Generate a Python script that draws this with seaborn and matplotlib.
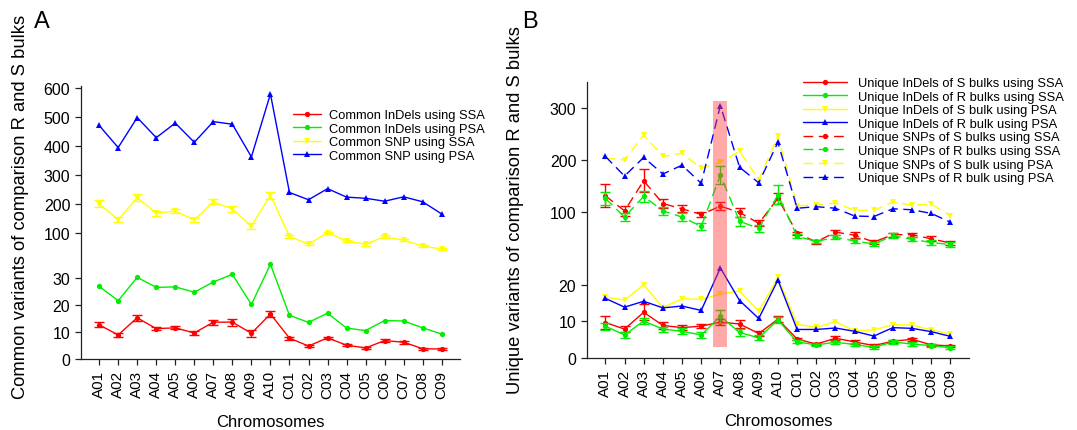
import numpy as np
import pandas as pd
import matplotlib
matplotlib.use("Agg")
import matplotlib.pyplot as plt
import seaborn as sns
from matplotlib.lines import Line2D

# ---------------- data ----------------
chromosomes = ["A01", "A02", "A03", "A04", "A05", "A06", "A07", "A08", "A09", "A10",
               "C01", "C02", "C03", "C04", "C05", "C06", "C07", "C08", "C09"]

# Panel A
a_indel_ssa = [12.7, 9.0, 15.3, 11.3, 11.6, 9.7, 13.7, 13.7, 9.6, 16.7,
               7.8, 4.9, 7.9, 5.2, 4.2, 6.9, 6.3, 3.9, 3.8]
a_indel_ssa_err = [0.9, 0.8, 1.0, 0.6, 0.6, 0.6, 0.9, 1.3, 1.2, 1.2,
                   0.6, 0.5, 0.5, 0.4, 0.4, 0.5, 0.5, 0.4, 0.4]
a_indel_psa = [26.9, 21.6, 30.2, 26.5, 26.7, 24.7, 28.5, 31.3, 20.2, 35.0,
               16.2, 13.6, 17.0, 11.5, 10.6, 14.3, 14.1, 11.6, 9.3]
a_snp_ssa = [202, 146, 222, 169, 176, 146, 208, 183, 125, 231,
             89, 63, 102, 74, 62, 89, 76, 56, 46]
a_snp_ssa_err = [12, 9, 13, 9, 8, 6, 8, 10, 9, 12,
                 4, 4, 4, 3, 4, 4, 3, 4, 3]
a_snp_psa = [470, 394, 497, 428, 478, 412, 483, 474, 362, 578,
             240, 215, 253, 224, 220, 210, 225, 208, 166]

# Panel B
b_indel_s_ssa = [9.7, 7.9, 12.5, 8.9, 8.3, 8.7, 9.8, 9.3, 6.7, 10.6,
                 5.2, 3.8, 5.4, 4.4, 3.4, 4.6, 5.1, 3.6, 3.3]
b_indel_s_ssa_err = [1.8, 0.8, 2.2, 1.0, 0.6, 0.5, 0.9, 1.0, 0.6, 0.8,
                     0.4, 0.3, 0.5, 0.5, 0.3, 0.4, 0.4, 0.3, 0.3]
b_indel_r_ssa = [8.7, 6.3, 10.1, 7.9, 7.3, 6.3, 11.4, 7.0, 5.5, 10.4,
                 4.4, 3.6, 4.3, 3.7, 2.9, 4.4, 3.8, 3.4, 2.8]
b_indel_r_ssa_err = [1.0, 0.9, 0.8, 0.7, 0.8, 0.9, 1.8, 0.9, 0.7, 0.8,
                     0.4, 0.3, 0.4, 0.4, 0.4, 0.5, 0.5, 0.4, 0.4]
b_indel_s_psa = [16.7, 15.8, 20.0, 13.8, 16.2, 16.0, 17.5, 18.3, 12.8, 22.0,
                 9.2, 8.4, 9.9, 7.4, 7.7, 9.1, 9.0, 7.7, 6.5]
b_indel_r_psa = [16.3, 13.9, 15.5, 13.7, 14.2, 13.0, 24.6, 15.7, 10.8, 21.3,
                 7.8, 7.8, 8.2, 7.3, 6.0, 8.3, 8.1, 7.2, 5.9]
b_snp_s_ssa = [131, 102, 160, 116, 106, 95, 111, 99, 78, 126,
               59, 42, 61, 55, 42, 56, 56, 48, 40]
b_snp_s_ssa_err = [22, 10, 22, 8, 7, 5, 8, 9, 6, 10,
                   3, 3, 5, 6, 3, 4, 4, 5, 4]
b_snp_r_ssa = [126, 90, 130, 102, 90, 72, 171, 82, 68, 133,
               53, 43, 51, 44, 38, 54, 47, 41, 37]
b_snp_r_ssa_err = [12, 8, 10, 8, 8, 6, 17, 9, 7, 18,
                   4, 3, 4, 4, 3, 5, 4, 5, 4]
b_snp_s_psa = [204, 200, 248, 207, 213, 184, 196, 217, 162, 246,
               112, 113, 117, 103, 103, 119, 113, 115, 92]
b_snp_r_psa = [207, 169, 205, 173, 190, 155, 305, 186, 156, 234,
               107, 110, 107, 92, 91, 106, 104, 97, 80]

highlight_chrom = "A07"

# ---------------- style ----------------
sns.set_theme(style="ticks")
plt.rcParams["font.family"] = ["Liberation Sans", "DejaVu Sans"]
plt.rcParams["text.color"] = "black"
plt.rcParams["axes.labelcolor"] = "black"
plt.rcParams["xtick.color"] = "black"
plt.rcParams["ytick.color"] = "black"

RED, GREEN, YELLOW, BLUE = "#ff0000", "#00ee00", "#ffff00", "#0000ff"
DASH = (7, 4)


def piecewise(b, k):
    def fwd(x):
        x = np.asarray(x, dtype=float)
        return np.where(x <= b, x, b + (x - b) * k)

    def inv(y):
        y = np.asarray(y, dtype=float)
        return np.where(y <= b, y, b + (y - b) / k)
    return fwd, inv


fig = plt.figure(figsize=(10.77, 4.31), dpi=100)
axA = fig.add_axes([0.0749, 0.164, 0.3524, 0.634])
axB = fig.add_axes([0.5448, 0.167, 0.3550, 0.640])

x = np.arange(len(chromosomes))


def draw(ax, y, color, marker, dashed=False, err=None, label=None):
    df = pd.DataFrame({"x": x, "y": y})
    sns.lineplot(data=df, x="x", y="y", ax=ax, color=color, lw=1.0,
                 marker=marker, markersize=3.8, markeredgewidth=0,
                 linestyle=(0, DASH) if dashed else "-", sort=False,
                 errorbar=None, legend=False)
    if err is not None:
        ax.errorbar(x, y, yerr=err, fmt="none", ecolor=color, elinewidth=1.0,
                    capsize=3.5, capthick=1.0)
    h = Line2D([], [], color=color, lw=1.0, marker=marker, markersize=3.8,
               markeredgewidth=0, linestyle=(0, DASH) if dashed else "-")
    return h, label


# ---------------- panel A ----------------
fA, iA = piecewise(40, 0.1074)
axA.set_yscale("function", functions=(fA, iA))
hA = [
    draw(axA, a_indel_ssa, RED, "o", err=a_indel_ssa_err, label="Common InDels using SSA"),
    draw(axA, a_indel_psa, GREEN, "o", label="Common InDels using PSA"),
    draw(axA, a_snp_ssa, YELLOW, "v", err=a_snp_ssa_err, label="Common SNP using SSA"),
    draw(axA, a_snp_psa, BLUE, "^", label="Common SNP using PSA"),
]
axA.set_ylim(0, 605)
axA.set_yticks([0, 10, 20, 30, 100, 200, 300, 400, 500, 600])
axA.set_ylabel("Common variants of comparison R and S bulks", fontsize=13.2)
axA.yaxis.set_label_coords(-0.136, 0.56)

# ---------------- panel B ----------------
fB, iB = piecewise(30, 0.1417)
axB.set_yscale("function", functions=(fB, iB))
hB = [
    draw(axB, b_indel_s_ssa, RED, "o", err=b_indel_s_ssa_err, label="Unique InDels of S bulks using SSA"),
    draw(axB, b_indel_r_ssa, GREEN, "o", err=b_indel_r_ssa_err, label="Unique InDels of R bulks using SSA"),
    draw(axB, b_indel_s_psa, YELLOW, "v", label="Unique InDels of S bulk using PSA"),
    draw(axB, b_indel_r_psa, BLUE, "^", label="Unique InDels of R bulk using PSA"),
    draw(axB, b_snp_s_ssa, RED, "o", dashed=True, err=b_snp_s_ssa_err, label="Unique SNPs of S bulks using SSA"),
    draw(axB, b_snp_r_ssa, GREEN, "o", dashed=True, err=b_snp_r_ssa_err, label="Unique SNPs of R bulks using SSA"),
    draw(axB, b_snp_s_psa, YELLOW, "v", dashed=True, label="Unique SNPs of S bulk using PSA"),
    draw(axB, b_snp_r_psa, BLUE, "^", dashed=True, label="Unique SNPs of R bulk using PSA"),
]
axB.set_ylim(0, 350)
axB.set_yticks([0, 10, 20, 100, 200, 300])
axB.set_ylabel("Unique variants of comparison R and S bulks", fontsize=13.2)
axB.yaxis.set_label_coords(-0.164, 0.54)

hi = chromosomes.index(highlight_chrom)
axB.fill_between([hi - 0.37, hi + 0.37], 3, 313, color="#ff4040", alpha=0.45,
                 lw=0, zorder=5)

for ax in (axA, axB):
    ax.set_xlim(-0.97, 18.97)
    ax.set_xticks(x)
    ax.set_xticklabels(chromosomes, rotation=90)
    ax.set_xlabel("Chromosomes", fontsize=12, labelpad=12)
    ax.tick_params(axis="y", labelsize=11.5)
    ax.tick_params(axis="x", labelsize=11)
    ax.tick_params(axis="both", length=4, width=0.9, color="#222222")
    for s in ("top", "right"):
        ax.spines[s].set_visible(False)
    for s in ("left", "bottom"):
        ax.spines[s].set_linewidth(0.9)
        ax.spines[s].set_color("#222222")
    ax.grid(False)

legA = axA.legend([h for h, _ in hA], [l for _, l in hA], loc="upper left",
                  bbox_to_anchor=(293 / 1077, 1 - 110 / 431),
                  bbox_transform=fig.transFigure, frameon=False, fontsize=9.3,
                  handlelength=2.2, handletextpad=0.55, labelspacing=0.12,
                  borderpad=0, borderaxespad=0)
legB = axB.legend([h for h, _ in hB], [l for _, l in hB], loc="upper left",
                  bbox_to_anchor=(803 / 1077, 1 - 78 / 431),
                  bbox_transform=fig.transFigure, frameon=False, fontsize=9.3,
                  handlelength=3.4, handletextpad=0.85, labelspacing=0.12,
                  borderpad=0, borderaxespad=0)

fig.text(42 / 1077, 1 - 22 / 431, "A", fontsize=17, ha="center", va="center")
fig.text(530 / 1077, 1 - 22 / 431, "B", fontsize=17, ha="center", va="center")

fig.savefig("out.png", dpi=100)
